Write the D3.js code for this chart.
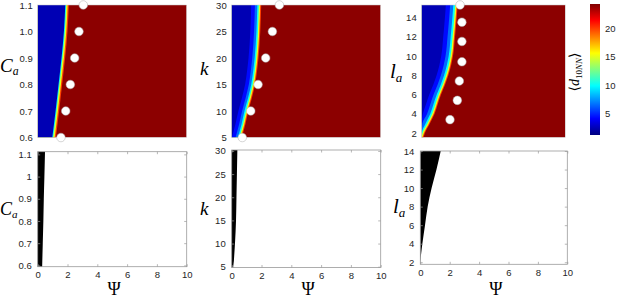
<!DOCTYPE html>
<html>
<head>
<meta charset="utf-8">
<script src="https://cdn.jsdelivr.net/npm/d3@7"></script>
<style>
  body { margin: 0; background: #fff; }
  svg { display: block; }
  .math { font-family: "Liberation Serif", "DejaVu Serif", serif; font-style: italic; fill: #000; }
</style>
</head>
<body>
<div id="chart"></div>
<script>
// ---------------- data ----------------
// top row: parameter rows, position of the yellow ridge (Psi) and the white markers
const caRows = [0.6, 0.7, 0.8, 0.9, 1.0, 1.1];
const caEdge = [1.08, 1.3, 1.5, 1.7, 1.86, 1.95];
const caDots = [1.56, 1.88, 2.19, 2.48, 2.77, 3.06];

const kRows = [5, 7.5, 10, 12.5, 15, 17.5, 20, 25, 30];
const kEdge = [0.56, 0.8, 1.0, 1.24, 1.45, 1.58, 1.68, 1.8, 1.86];
const kDotRows = [5, 10, 15, 20, 25, 30];
const kDots = [0.71, 1.28, 1.77, 2.28, 2.73, 3.2];

const laRows = [1.55, 2, 3, 4, 5, 6, 7, 8, 10, 12, 14, 15.28];
const laEdge = [0, 0.1, 0.45, 0.78, 1.0, 1.23, 1.5, 1.74, 2.06, 2.2, 2.32, 2.38];
const laDotRows = [3.4, 5.4, 7.4, 9.4, 11.5, 13.5, 15.28];
const laDots = [1.97, 2.48, 2.62, 2.8, 2.8, 2.8, 2.67];

// colour bands across the ridge: [Psi offset, <d10NN>]
const caBands = [[0.14, 20], [0.06, 15], [-0.04, 9.5], [-0.1, 2.4]];
const kBands = [[0.12, 20], [0.05, 15], [-0.04, 10], [-0.14, 6.5], [-0.3, 4.3], [-0.55, 2.4]];
const laBands = [[0.12, 20], [0.05, 15], [-0.05, 10], [-0.18, 6.5], [-0.4, 4.3], [-0.7, 2.4]];
const plateau = 24.0;

// bottom row: width of the black region (Psi) per parameter row
const caRowsB = [0.594, 0.7, 0.8, 0.9, 1.0, 1.112];
const caBlack = [0.3, 0.34, 0.38, 0.41, 0.45, 0.49];
const kRowsB = [4.83, 5, 7.5, 10, 15, 20, 25, 30.2];
const kBlack = [0.06, 0.1, 0.17, 0.22, 0.29, 0.32, 0.35, 0.38];
const laRowsB = [1.78, 2.5, 4, 6, 8, 10, 12, 14];
const laBlack = [0, 0.03, 0.14, 0.32, 0.5, 0.77, 1.1, 1.39];

// ticks
const psiTicks = [0, 2, 4, 6, 8, 10];
const caTicks = [0.6, 0.7, 0.8, 0.9, 1.0, 1.1];
const kTicks = [5, 10, 15, 20, 25, 30];
const laTicks = [2, 4, 6, 8, 10, 12, 14];
const cbTicks = [5, 10, 15, 20];
const cbDomain = [1.2, 24.3];

// ---------------- setup ----------------
const W = 617, H = 301;
const svg = d3.select("#chart").append("svg").attr("width", W).attr("height", H);
const defs = svg.append("defs");

// jet colormap
const jetPos = [0, 0.125, 0.375, 0.625, 0.875, 1];
const jetCol = ["#00007f", "#0000ff", "#00ffff", "#ffff00", "#ff0000", "#7f0000"];
const jet = d3.scaleLinear()
    .domain(jetPos.map(t => cbDomain[0] + t * (cbDomain[1] - cbDomain[0])))
    .range(jetCol)
    .clamp(true);

const tickFont = "'Liberation Sans', Arial, sans-serif";

function styleAxis(g) {
    g.select(".domain").remove();
    g.selectAll("text")
        .attr("font-family", tickFont)
        .attr("font-size", 9.5)
        .attr("fill", "#262626");
    g.selectAll("line").attr("stroke", "#9a9a9a").attr("stroke-width", 0.7);
}

function axisLabel(g, x, y, main, sub, size) {
    let t = g.append("text").attr("class", "math")
        .attr("x", x).attr("y", y)
        .attr("font-size", size);
    t.append("tspan").text(main);
    if (sub) {
        t.append("tspan").attr("font-size", size * 0.62).attr("dy", size * 0.18).text(sub);
    }
}

// ---------------- top row heatmaps ----------------
const topPanels = [
    {box: {x0: 37.7, x1: 186.7, y0: 5, y1: 137.5}, yDomain: [0.6, 1.1], rows: caRows, edge: caEdge,
     dotRows: caRows, dots: caDots, bands: caBands, ticks: caTicks, fmt: d3.format(".1f"),
     label: {x: 0, y: 72, main: "C", sub: "a", size: 19}},
    {box: {x0: 231.7, x1: 380.7, y0: 5, y1: 137.5}, yDomain: [5, 30], rows: kRows, edge: kEdge,
     dotRows: kDotRows, dots: kDots, bands: kBands, ticks: kTicks, fmt: d3.format("d"),
     label: {x: 200, y: 75, main: "k", sub: null, size: 19}},
    {box: {x0: 421.7, x1: 565.3, y0: 5, y1: 137.5}, yDomain: [1.55, 15.28], rows: laRows, edge: laEdge,
     dotRows: laDotRows, dots: laDots, bands: laBands, ticks: laTicks, fmt: d3.format("d"),
     label: {x: 390, y: 78, main: "l", sub: "a", size: 21}}
];

topPanels.forEach((p, i) => {
    let x = d3.scaleLinear().domain([0, 10]).range([p.box.x0, p.box.x1]);
    let y = d3.scaleLinear().domain(p.yDomain).range([p.box.y1, p.box.y0]);

    defs.append("clipPath").attr("id", "clip" + i)
        .append("rect")
        .attr("x", p.box.x0).attr("y", p.box.y0)
        .attr("width", p.box.x1 - p.box.x0).attr("height", p.box.y1 - p.box.y0);

    let g = svg.append("g");
    let inner = g.append("g").attr("clip-path", "url(#clip" + i + ")");

    inner.append("rect")
        .attr("x", p.box.x0).attr("y", p.box.y0)
        .attr("width", p.box.x1 - p.box.x0).attr("height", p.box.y1 - p.box.y0)
        .attr("fill", jet(plateau));

    let rows = p.rows.map((r, j) => ({p: r, e: p.edge[j]}));

    p.bands.forEach(b => {
        let area = d3.area()
            .curve(d3.curveMonotoneY)
            .y(d => y(d.p))
            .x0(x(0))
            .x1(d => x(Math.max(0, d.e + b[0])));
        inner.append("path").datum(rows)
            .attr("d", area)
            .attr("fill", jet(b[1]));
    });

    g.append("rect")
        .attr("x", p.box.x0).attr("y", p.box.y0)
        .attr("width", p.box.x1 - p.box.x0).attr("height", p.box.y1 - p.box.y0)
        .attr("fill", "none").attr("stroke", "#c8c8c8").attr("stroke-width", 0.5);

    g.selectAll(".dot")
        .data(p.dotRows.map((r, j) => ({p: r, psi: p.dots[j]})))
        .join("circle")
        .attr("class", "dot")
        .attr("cx", d => x(d.psi))
        .attr("cy", d => y(d.p))
        .attr("r", 4.3)
        .attr("fill", "#fff")
        .attr("stroke", "#aaa")
        .attr("stroke-width", 0.5);

    g.append("g")
        .attr("transform", "translate(" + p.box.x0 + ",0)")
        .call(d3.axisLeft(y).tickValues(p.ticks).tickFormat(p.fmt).tickSize(0).tickPadding(5))
        .call(styleAxis);

    axisLabel(g, p.label.x, p.label.y, p.label.main, p.label.sub, p.label.size);
});

// ---------------- colorbar ----------------
const cb = {x0: 590, x1: 600, y0: 4, y1: 135};
const cbScale = d3.scaleLinear().domain(cbDomain).range([cb.y1, cb.y0]);

let grad = defs.append("linearGradient").attr("id", "jetGrad")
    .attr("x1", 0).attr("y1", 1).attr("x2", 0).attr("y2", 0);
jetPos.forEach((t, j) => {
    grad.append("stop").attr("offset", t).attr("stop-color", jetCol[j]);
});

svg.append("rect")
    .attr("x", cb.x0).attr("y", cb.y0)
    .attr("width", cb.x1 - cb.x0).attr("height", cb.y1 - cb.y0)
    .attr("fill", "url(#jetGrad)");

svg.append("g")
    .attr("transform", "translate(" + cb.x1 + ",0)")
    .call(d3.axisRight(cbScale).tickValues(cbTicks).tickSize(0).tickPadding(5))
    .call(styleAxis);

let cbLab = svg.append("text")
    .attr("transform", "translate(579,72) rotate(-90)")
    .attr("text-anchor", "middle")
    .attr("font-family", "'Liberation Serif', 'DejaVu Serif', serif")
    .attr("font-size", 14);
cbLab.append("tspan").text("\u27E8");
cbLab.append("tspan").attr("font-style", "italic").text("d");
cbLab.append("tspan").attr("font-size", 9).attr("dy", 3).text("10");
cbLab.append("tspan").attr("font-size", 9).attr("font-style", "italic").text("NN");
cbLab.append("tspan").attr("dy", -3).text("\u27E9");

// ---------------- bottom row ----------------
const bottomPanels = [
    {box: {x0: 37.7, x1: 186.7, y0: 151.7, y1: 266.7}, yDomain: [0.594, 1.112], rows: caRowsB, black: caBlack,
     ticks: caTicks, fmt: d => String(+d.toFixed(1)),
     label: {x: 0, y: 215, main: "C", sub: "a", size: 18}},
    {box: {x0: 231.7, x1: 380.7, y0: 150, y1: 267.5}, yDomain: [4.83, 30.2], rows: kRowsB, black: kBlack,
     ticks: kTicks, fmt: d3.format("d"),
     label: {x: 200, y: 215, main: "k", sub: null, size: 19}},
    {box: {x0: 420.3, x1: 567.3, y0: 151, y1: 264.3}, yDomain: [1.78, 14], rows: laRowsB, black: laBlack,
     ticks: laTicks, fmt: d3.format("d"),
     label: {x: 393, y: 213, main: "l", sub: "a", size: 21}}
];

bottomPanels.forEach(p => {
    let x = d3.scaleLinear().domain([0, 10]).range([p.box.x0, p.box.x1]);
    let y = d3.scaleLinear().domain(p.yDomain).range([p.box.y1, p.box.y0]);
    let g = svg.append("g");

    g.append("rect")
        .attr("x", p.box.x0).attr("y", p.box.y0)
        .attr("width", p.box.x1 - p.box.x0).attr("height", p.box.y1 - p.box.y0)
        .attr("fill", "#fff");

    let rows = p.rows.map((r, j) => ({p: r, e: p.black[j]}));
    g.append("path").datum(rows)
        .attr("d", d3.area().curve(d3.curveMonotoneY)
            .y(d => y(d.p)).x0(x(0)).x1(d => x(d.e)))
        .attr("fill", "#000");

    // box with mirrored inward ticks
    g.append("g").attr("transform", "translate(0," + p.box.y1 + ")")
        .call(d3.axisBottom(x).tickValues(psiTicks).tickSizeInner(-2.5).tickSizeOuter(0).tickPadding(5))
        .call(styleAxis);
    g.append("g").attr("transform", "translate(0," + p.box.y0 + ")")
        .call(d3.axisTop(x).tickValues(psiTicks).tickSizeInner(-2.5).tickSizeOuter(0).tickFormat(""))
        .call(styleAxis);
    g.append("g").attr("transform", "translate(" + p.box.x0 + ",0)")
        .call(d3.axisLeft(y).tickValues(p.ticks).tickFormat(p.fmt).tickSizeInner(-2.5).tickSizeOuter(0).tickPadding(6))
        .call(styleAxis);
    g.append("g").attr("transform", "translate(" + p.box.x1 + ",0)")
        .call(d3.axisRight(y).tickValues(p.ticks).tickSizeInner(-2.5).tickSizeOuter(0).tickFormat(""))
        .call(styleAxis);

    g.append("rect")
        .attr("x", p.box.x0).attr("y", p.box.y0)
        .attr("width", p.box.x1 - p.box.x0).attr("height", p.box.y1 - p.box.y0)
        .attr("fill", "none").attr("stroke", "#9a9a9a").attr("stroke-width", 0.8);

    axisLabel(g, p.label.x, p.label.y, p.label.main, p.label.sub, p.label.size);

    g.append("text")
        .attr("x", (p.box.x0 + p.box.x1) / 2 + 2)
        .attr("y", 295)
        .attr("text-anchor", "middle")
        .attr("font-family", "'Liberation Serif', 'DejaVu Serif', serif")
        .attr("font-size", 18)
        .text("\u03A8");
});
</script>
</body>
</html>
